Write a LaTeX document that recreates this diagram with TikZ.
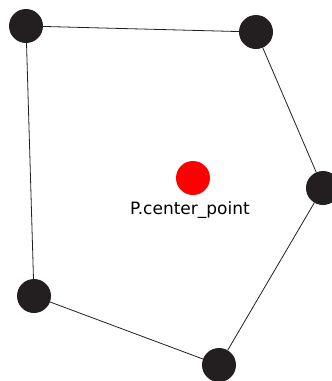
\documentclass[tikz,border=0pt]{standalone}
\usepackage{fontspec}
\setmainfont{DejaVu Sans}
\usetikzlibrary{positioning}
\definecolor{vertexc}{RGB}{35,31,32}
\definecolor{centerc}{RGB}{255,0,0}

\begin{document}
\begin{tikzpicture}[x=1pt, y=-1pt,
  v/.style={circle, fill=vertexc, minimum size=34pt, inner sep=0pt},
  ctr/.style={circle, fill=centerc, minimum size=34pt, inner sep=0pt},
  e/.style={draw=vertexc, line width=0.8pt}]
\useasboundingbox (0,0) rectangle (332,381);
\node[v] (p1) at (26,26) {};
\node[v] (p2) at (256,32) {};
\node[v] (p3) at (323,188) {};
\node[v] (p4) at (219,365) {};
\node[v] (p5) at (34,296) {};
\node[ctr] (cp) at (193,178) {};
\draw[e] (p1) -- (p2);
\draw[e] (p2) -- (p3);
\draw[e] (p3) -- (p4);
\draw[e] (p4) -- (p5);
\draw[e] (p5) -- (p1);
\node[font=\fontsize{17}{20}\selectfont, inner sep=0pt, below=6pt of cp, xshift=-3pt] (lbl) {P.center\_point};
\end{tikzpicture}
\end{document}
